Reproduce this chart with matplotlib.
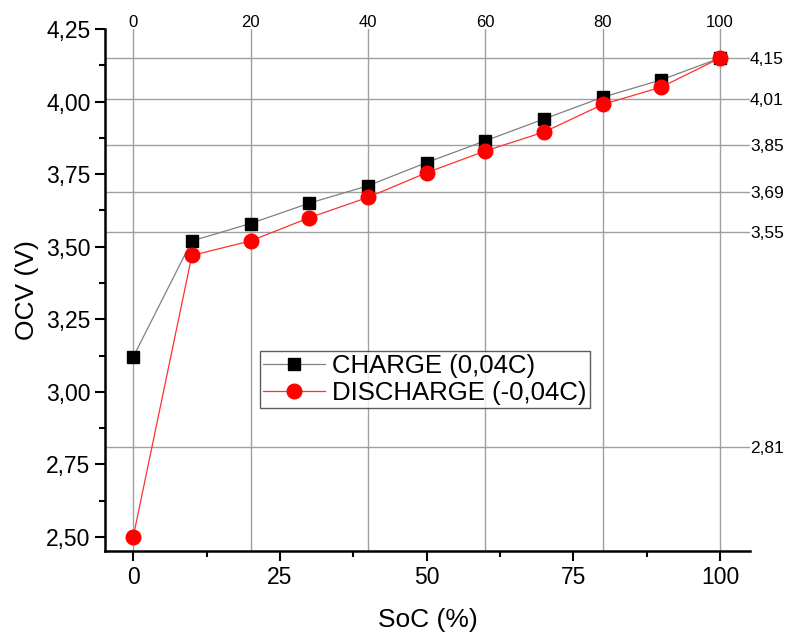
import numpy as np
import matplotlib.pyplot as plt
from matplotlib.ticker import FixedLocator, MultipleLocator, FuncFormatter

plt.rcParams["font.family"] = ["Liberation Sans", "DejaVu Sans"]

# --- data ---
soc = [0, 10, 20, 30, 40, 50, 60, 70, 80, 90, 100]
ocv_charge = [3.12, 3.52, 3.58, 3.65, 3.71, 3.79, 3.865, 3.94, 4.015, 4.075, 4.15]
ocv_discharge = [2.50, 3.47, 3.52, 3.60, 3.67, 3.755, 3.83, 3.895, 3.99, 4.05, 4.15]

right_ticks = [4.15, 4.01, 3.85, 3.69, 3.55, 2.81]
top_ticks = [0, 20, 40, 60, 80, 100]

label_charge = "CHARGE (0,04C)"
label_discharge = "DISCHARGE (-0,04C)"

comma = lambda fmt: FuncFormatter(lambda v, p: (fmt % v).replace(".", ","))

fig = plt.figure(figsize=(7.85, 6.32), dpi=100)
ax = fig.add_axes([105/785, 1 - 551/632, 645/785, 522/632])
ax.set_zorder(3)
ax.patch.set_visible(False)

ax.plot(soc, ocv_charge, color="#808080", lw=0.9, marker="s", ms=9,
        mfc="black", mec="black", label=label_charge, zorder=5)
ax.plot(soc, ocv_discharge, color="#ff3030", lw=0.9, marker="o", ms=10.5,
        mfc="red", mec="red", label=label_discharge, zorder=6)

ax.set_xlim(-4.8, 105.1)
ax.set_ylim(2.452, 4.25)

ax.xaxis.set_major_locator(MultipleLocator(25))
ax.xaxis.set_minor_locator(MultipleLocator(12.5))
ax.yaxis.set_major_locator(MultipleLocator(0.25))
ax.yaxis.set_minor_locator(MultipleLocator(0.125))
ax.yaxis.set_major_formatter(comma("%.2f"))

ax.tick_params(axis="both", which="major", direction="out", length=7, width=1.5, labelsize=16.5)
ax.tick_params(axis="both", which="minor", direction="out", length=4, width=1.5)
for s in ["top", "right"]:
    ax.spines[s].set_visible(False)
for s in ["left", "bottom"]:
    ax.spines[s].set_linewidth(1.8)

ax.set_xlabel("SoC (%)", fontsize=19, labelpad=14)
ax.set_ylabel("OCV (V)", fontsize=19, labelpad=5)

# top axis: grid at 0..100 step 20
axt = ax.twiny()
axt.set_zorder(1)
axt.set_xlim(ax.get_xlim())
axt.xaxis.set_major_locator(FixedLocator(top_ticks))
axt.tick_params(axis="x", length=0, labelsize=12, pad=-1)
axt.grid(True, axis="x", color="#a0a0a0", lw=1)
for s in axt.spines.values():
    s.set_visible(False)

# right axis: grid at custom voltages
axr = ax.twinx()
axr.set_zorder(2)
axr.set_ylim(ax.get_ylim())
axr.yaxis.set_major_locator(FixedLocator(right_ticks))
axr.yaxis.set_major_formatter(comma("%.2f"))
axr.tick_params(axis="y", length=0, labelsize=12.5, pad=0)
axr.grid(True, axis="y", color="#a0a0a0", lw=1)
for s in axr.spines.values():
    s.set_visible(False)

leg = ax.legend(loc="lower left", bbox_to_anchor=(0.24, 0.274), fontsize=18.5,
                frameon=True, fancybox=False, edgecolor="#333333",
                handlelength=2.4, handletextpad=0.3, borderpad=0.12,
                labelspacing=0.1, borderaxespad=0, markerscale=1.0)
leg.get_frame().set_linewidth(1.0)

fig.savefig("out.png", dpi=100)
